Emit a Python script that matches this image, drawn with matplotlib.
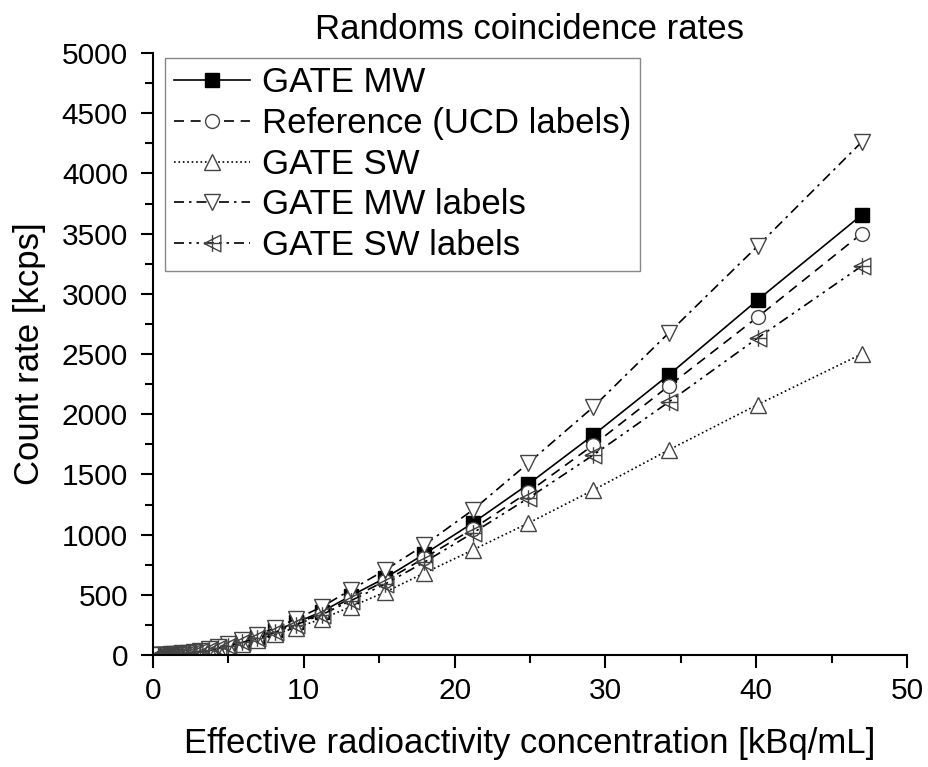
import matplotlib
matplotlib.use("Agg")
import matplotlib.pyplot as plt
from matplotlib.markers import MarkerStyle
from matplotlib.path import Path
from matplotlib.ticker import MultipleLocator

plt.rcParams['font.family'] = ['Liberation Sans', 'DejaVu Sans']

# activity concentration [kBq/mL]
conc = [47.0, 40.1, 34.2, 29.2, 24.9, 21.2, 18.0, 15.4, 13.1, 11.2, 9.5, 8.1,
        6.9, 5.9, 5.0, 4.3, 3.7, 3.1, 2.7, 2.3, 1.95, 1.66, 1.42, 1.21, 1.03,
        0.88, 0.75, 0.64, 0.54, 0.46, 0.39, 0.34]

gate_mw = [3655, 2949, 2326, 1827, 1420, 1096, 839, 640, 490, 360, 270, 205,
           152, 112, 82, 61, 45, 32, 24, 18, 13, 9.5, 7, 5, 3.7,
           2.7, 2.0, 1.5, 1.1, 0.8, 0.6, 0.4]
reference = [3500, 2807, 2234, 1744, 1354, 1047, 806, 615, 470, 345, 260, 197,
             146, 108, 79, 58, 43, 31, 23, 17, 12.5, 9, 6.7, 4.8, 3.5,
             2.6, 1.9, 1.4, 1.0, 0.75, 0.55, 0.4]
gate_sw = [2500, 2080, 1703, 1370, 1096, 872, 681, 523, 400, 300, 228, 173,
           128, 95, 70, 52, 38, 27, 20, 15, 11, 8, 6, 4.3, 3.1,
           2.3, 1.7, 1.2, 0.9, 0.65, 0.5, 0.35]
gate_mw_labels = [4261, 3397, 2675, 2060, 1595, 1204, 914, 706, 540, 400, 300, 225,
                  165, 122, 89, 66, 48, 35, 26, 19, 14, 10, 7.5, 5.4, 4.0,
                  2.9, 2.1, 1.6, 1.2, 0.85, 0.62, 0.45]
gate_sw_labels = [3231, 2633, 2101, 1661, 1304, 1013, 772, 590, 450, 335, 252, 190,
                  140, 104, 76, 56, 41, 30, 22, 16, 12, 8.7, 6.4, 4.6, 3.4,
                  2.5, 1.8, 1.3, 1.0, 0.7, 0.5, 0.35]


def marker_path(m):
    ms = MarkerStyle(m)
    return ms.get_path().transformed(ms.get_transform())


# left triangle with a plus through it
tri_plus = Path.make_compound_path(marker_path('<'), marker_path('+'))

fig = plt.figure(figsize=(9.29, 7.67), dpi=100)
ax = fig.add_axes([153 / 929, 1 - 655 / 767, 754 / 929, 602 / 767])

mec = '#444444'
ax.plot(conc, gate_mw, '-', color='black', lw=1.2, marker='s', ms=9.5,
        mfc='black', mec='black', label='GATE MW')
ax.plot(conc, reference, '--', color='black', lw=1.2, marker='o', ms=10,
        mfc='white', mec=mec, mew=1.0, dashes=(6, 4), label='Reference (UCD labels)')
ax.plot(conc, gate_sw, ':', color='black', lw=1.2, marker='^', ms=12,
        mfc='white', mec=mec, mew=1.0, label='GATE SW')
ax.plot(conc, gate_mw_labels, '-.', color='black', lw=1.2, marker='v', ms=12,
        mfc='white', mec=mec, mew=1.0, dashes=(6, 3, 1.5, 3), label='GATE MW labels')
ax.plot(conc, gate_sw_labels, color='black', lw=1.2, marker=tri_plus, ms=12,
        mfc='none', mec=mec, mew=1.0, dashes=(6, 3, 1.5, 3, 1.5, 3), label='GATE SW labels')

ax.set_xlim(0, 50)
ax.set_ylim(0, 5000)
ax.xaxis.set_major_locator(MultipleLocator(10))
ax.xaxis.set_minor_locator(MultipleLocator(5))
ax.yaxis.set_major_locator(MultipleLocator(500))
ax.yaxis.set_minor_locator(MultipleLocator(250))
ax.tick_params(which='major', direction='out', length=9, width=1.5, labelsize=21.5)
ax.tick_params(axis='y', which='major', pad=9)
ax.tick_params(axis='x', which='major', pad=7)
ax.tick_params(which='minor', direction='out', length=5.5, width=1.5)
ax.spines['top'].set_visible(False)
ax.spines['right'].set_visible(False)
ax.spines['left'].set_linewidth(1.5)
ax.spines['bottom'].set_linewidth(1.5)

ax.set_title('Randoms coincidence rates', fontsize=25, pad=10)
ax.set_xlabel('Effective radioactivity concentration [kBq/mL]', fontsize=25, labelpad=16)
ax.set_ylabel('Count rate [kcps]', fontsize=25, labelpad=11)

leg = ax.legend(loc='upper left', bbox_to_anchor=(0.016, 0.992), borderaxespad=0,
                fontsize=25, handlelength=2.2, fancybox=False, framealpha=1,
                edgecolor='#888888', labelspacing=0.22, borderpad=0.25,
                handletextpad=0.35)
leg.get_frame().set_linewidth(1.0)

fig.savefig('out.png', dpi=100)
